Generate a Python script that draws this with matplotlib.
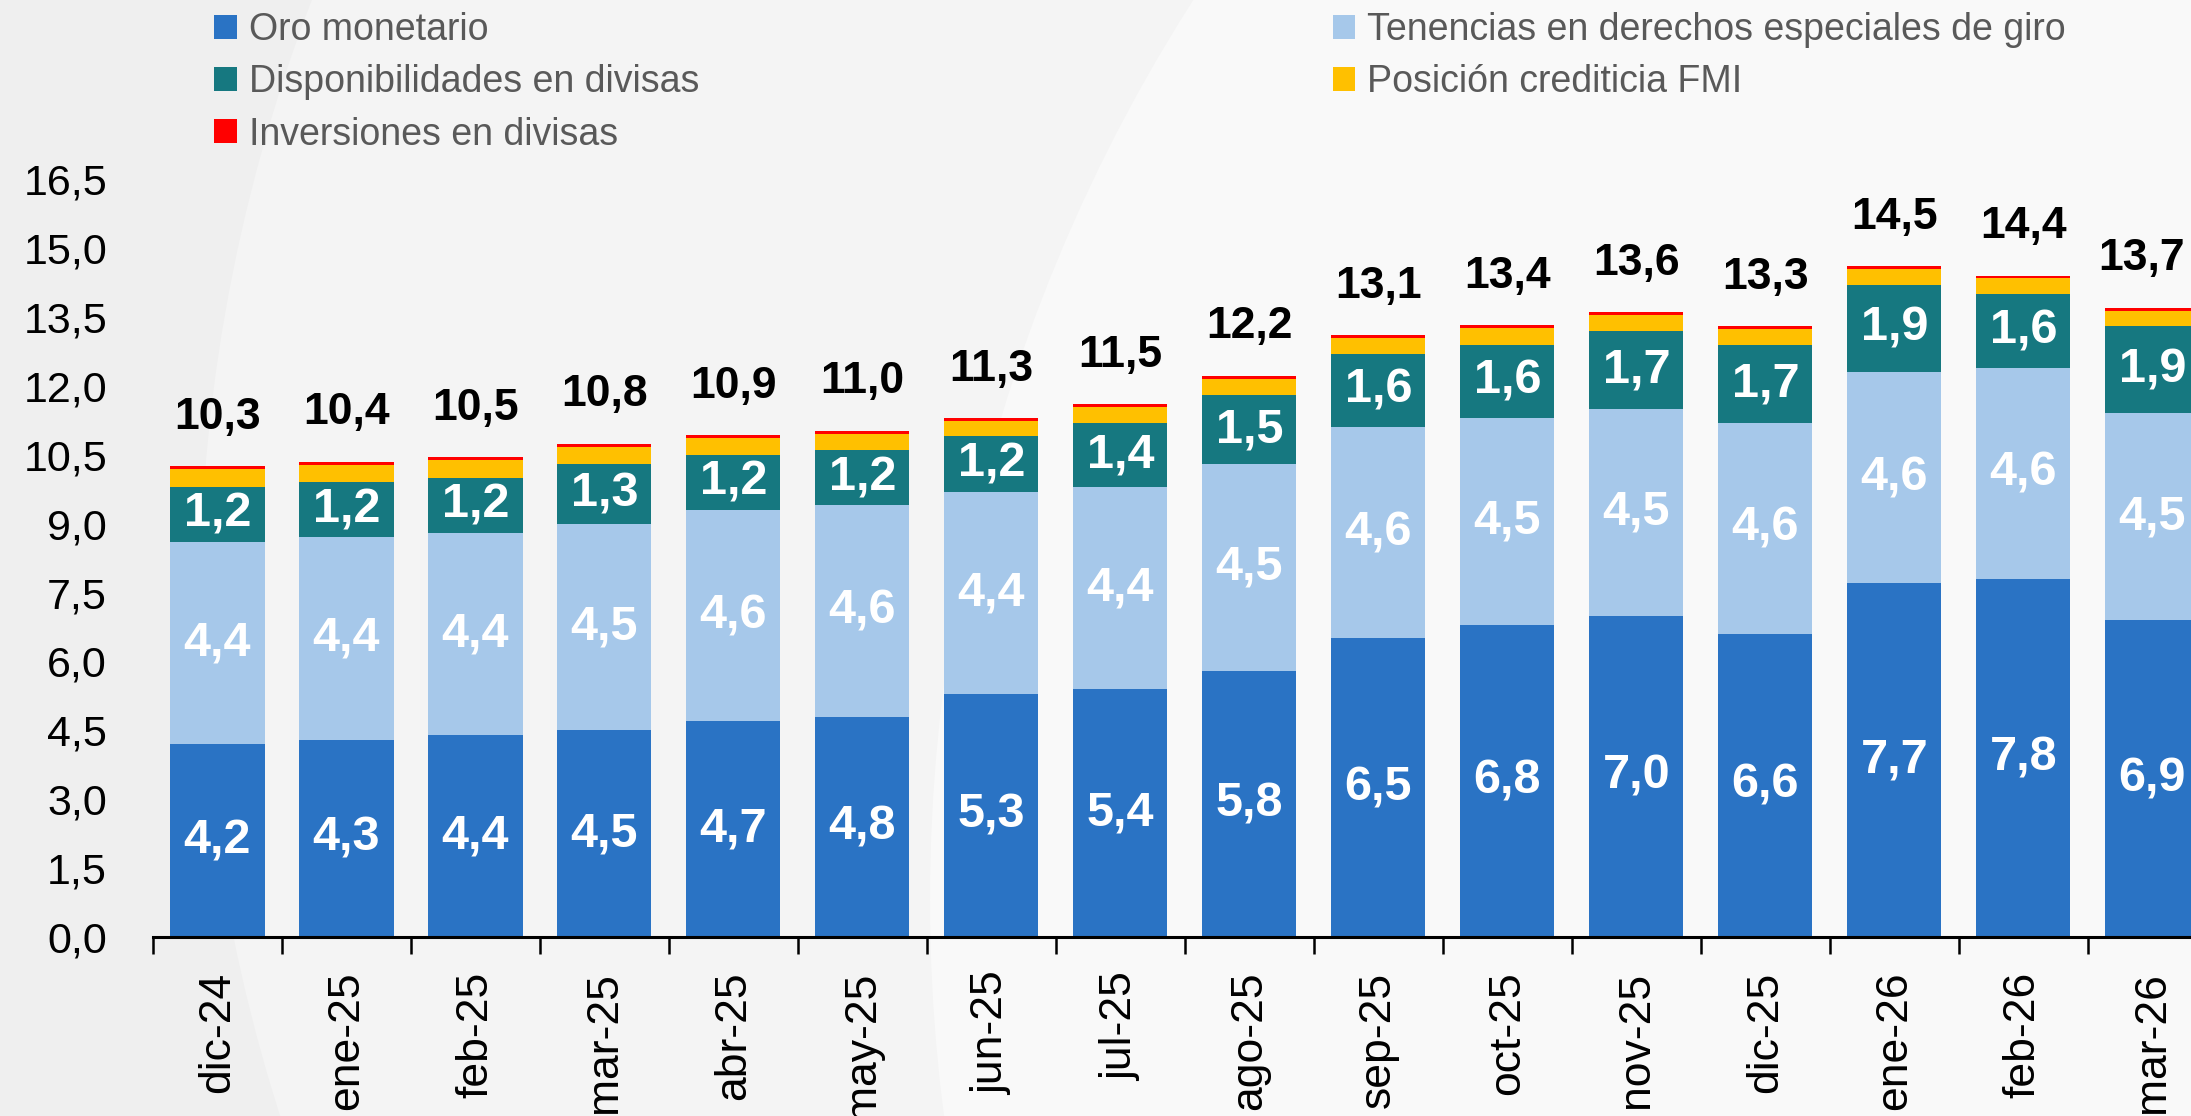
import matplotlib.pyplot as plt
from matplotlib.patches import Circle
import numpy as np

plt.rcParams['font.family'] = ['Liberation Sans', 'DejaVu Sans']

meses = ['dic-24', 'ene-25', 'feb-25', 'mar-25', 'abr-25', 'may-25', 'jun-25', 'jul-25',
         'ago-25', 'sep-25', 'oct-25', 'nov-25', 'dic-25', 'ene-26', 'feb-26', 'mar-26']
oro = [4.2, 4.3, 4.4, 4.5, 4.7, 4.8, 5.3, 5.4, 5.8, 6.5, 6.8, 7.0, 6.6, 7.7, 7.8, 6.9]
deg = [4.4, 4.4, 4.4, 4.5, 4.6, 4.6, 4.4, 4.4, 4.5, 4.6, 4.5, 4.5, 4.6, 4.6, 4.6, 4.5]
divisas = [1.2, 1.2, 1.2, 1.3, 1.2, 1.2, 1.2, 1.4, 1.5, 1.6, 1.6, 1.7, 1.7, 1.9, 1.6, 1.9]
fmi = [0.38, 0.38, 0.38, 0.38, 0.36, 0.36, 0.34, 0.34, 0.36, 0.34, 0.36, 0.34, 0.34, 0.34, 0.34, 0.34]
inversiones = [0.07, 0.07, 0.07, 0.06, 0.06, 0.06, 0.06, 0.06, 0.06, 0.06, 0.06, 0.06, 0.06, 0.06, 0.06, 0.06]
totales = [10.3, 10.4, 10.5, 10.8, 10.9, 11.0, 11.3, 11.5, 12.2, 13.1, 13.4, 13.6, 13.3, 14.5, 14.4, 13.7]

nombres = ['Oro monetario', 'Tenencias en derechos especiales de giro',
           'Disponibilidades en divisas', 'Posición crediticia FMI', 'Inversiones en divisas']
colores = ['#2a73c4', '#a6c8ea', '#167880', '#ffc000', '#ff0000']


def fmt(v):
  return f'{v:.1f}'.replace('.', ',')


fig = plt.figure(figsize=(21.91, 11.16), dpi=100, facecolor='#efefef')

# soft background shapes
fig.patches.append(Circle((18.82, 5.13), 16.82, transform=fig.dpi_scale_trans,
                          facecolor='#f4f4f4', edgecolor='none', zorder=-10))
fig.patches.append(Circle((26.0, 2.16), 16.7, transform=fig.dpi_scale_trans,
                          facecolor='#f9f9f9', edgecolor='none', zorder=-9))

ax = fig.add_axes([0.0698, 0.1604, 0.942, 0.679])
ax.set_facecolor('none')

x = np.arange(len(meses))
bottom = np.zeros(len(meses))
handles = []
for i, (vals, name, color) in enumerate(zip([oro, deg, divisas, fmi, inversiones], nombres, colores)):
  bars = ax.bar(x, vals, 0.73, bottom=bottom, color=color, label=name, linewidth=0)
  handles.append(bars)
  if i < 3:
    ax.bar_label(bars, labels=[fmt(v) for v in vals], label_type='center',
                 color='white', fontsize=35, fontweight='bold')
  bottom += np.array(vals)

# totals above each bar (last one nudged left so it stays inside the figure)
for xi, top, t in zip(x, bottom, totales):
  dx = -8 if xi == x[-1] else 0
  ax.annotate(fmt(t), (xi, top), xytext=(dx, 27), textcoords='offset points',
              ha='center', va='baseline', fontsize=32, fontweight='bold', color='black')

ax.set_xlim(-0.5, 15.5)
ax.set_ylim(0, 16.5)

ax.set_xticks(x)
ax.set_xticklabels(meses, rotation=90)
ax.set_xticks(np.arange(-0.5, 16, 1), minor=True)
ax.tick_params(axis='x', which='major', length=0, pad=25, labelsize=32)
ax.tick_params(axis='x', which='minor', length=12, width=1.8, color='black')

yt = np.arange(0, 16.51, 1.5)
ax.set_yticks(yt)
ax.set_yticklabels([fmt(v) for v in yt])
ax.tick_params(axis='y', length=0, pad=33, labelsize=31)

for s in ['left', 'top', 'right']:
  ax.spines[s].set_visible(False)
ax.spines['bottom'].set_linewidth(2.2)

order = [0, 2, 4, 1, 3]
fig.legend([handles[k] for k in order], [nombres[k] for k in order],
           loc='upper left', bbox_to_anchor=(0.0977, 0.989), ncol=2,
           frameon=False, fontsize=27, labelcolor='#595959',
           handlelength=0.6, handleheight=0.6, handletextpad=0.32,
           columnspacing=16.9, labelspacing=0.43, borderpad=0, borderaxespad=0)

fig.savefig('out.png', dpi=100, facecolor=fig.get_facecolor())
